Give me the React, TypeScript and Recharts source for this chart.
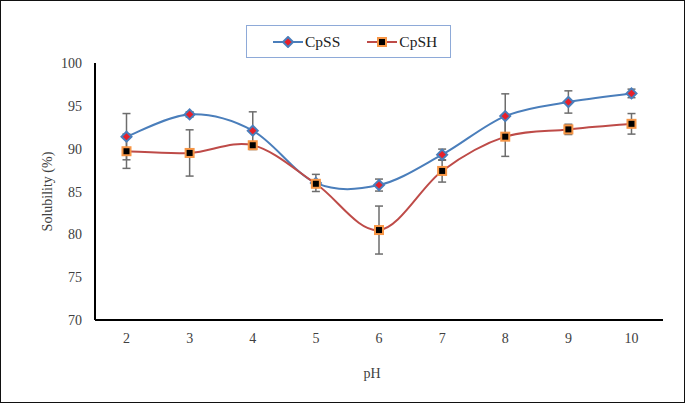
import React from "react";
import { ComposedChart, Line, XAxis, YAxis, ErrorBar, Legend, Label } from "recharts";

const phLabels = ["2", "3", "4", "5", "6", "7", "8", "9", "10"];
const cpssValues = [91.4, 94.0, 92.1, 86.0, 85.75, 89.3, 93.8, 95.45, 96.45];
const cpssErrors = [2.7, 0.3, 2.2, 1.0, 0.7, 0.65, 2.6, 1.3, 0.5];
const cpshValues = [89.7, 89.5, 90.4, 85.9, 80.5, 87.4, 91.4, 92.25, 92.9];
const cpshErrors = [2.0, 2.7, 0.3, 0.4, 2.8, 1.3, 2.3, 0.6, 1.2];
const yTicks = [70, 75, 80, 85, 90, 95, 100];

const data = phLabels.map((ph, i) => ({
  ph,
  cpss: cpssValues[i],
  cpssErr: cpssErrors[i],
  cpsh: cpshValues[i],
  cpshErr: cpshErrors[i],
}));

const BLUE = "#4a7ebb";
const RED = "#be4b48";
const FONT = "'Liberation Serif', 'Times New Roman', serif";
const TEXT = "#404040";

// Excel-like smoothed curve (Catmull-Rom style bezier)
function smoothCurve(context: any) {
  let pts: number[][] = [];
  return {
    areaStart() {},
    areaEnd() {},
    lineStart() {
      pts = [];
    },
    point(x: number, y: number) {
      pts.push([+x, +y]);
    },
    lineEnd() {
      if (!pts.length) return;
      context.moveTo(pts[0][0], pts[0][1]);
      for (let i = 0; i < pts.length - 1; i++) {
        const p0 = pts[i - 1] || pts[i];
        const p1 = pts[i];
        const p2 = pts[i + 1];
        const p3 = pts[i + 2] || pts[i + 1];
        const c1x = p1[0] + (p2[0] - p0[0]) / 6;
        const c1y = p1[1] + (p2[1] - p0[1]) / 6;
        const c2x = p2[0] - (p3[0] - p1[0]) / 6;
        const c2y = p2[1] - (p3[1] - p1[1]) / 6;
        context.bezierCurveTo(c1x, c1y, c2x, c2y, p2[0], p2[1]);
      }
    },
  };
}

const DiamondDot = (props: any) => {
  const { cx, cy } = props;
  if (cx == null || cy == null) return null;
  const r = 5;
  return (
    <polygon
      points={`${cx},${cy - r} ${cx + r},${cy} ${cx},${cy + r} ${cx - r},${cy}`}
      fill="#e8202a"
      stroke={BLUE}
      strokeWidth={2}
    />
  );
};

const SquareDot = (props: any) => {
  const { cx, cy } = props;
  if (cx == null || cy == null) return null;
  const s = 8;
  return (
    <rect x={cx - s / 2} y={cy - s / 2} width={s} height={s} fill="#000" stroke="#f79646" strokeWidth={2} />
  );
};

const XTick = (props: any) => {
  const { x, y, payload } = props;
  return (
    <text x={x} y={y} dy={10} textAnchor="middle" fill={TEXT} fontSize={14} fontFamily={FONT}>
      {payload.value}
    </text>
  );
};

const YTick = (props: any) => {
  const { x, y, payload } = props;
  return (
    <text x={x} y={y} dy={5} textAnchor="end" fill={TEXT} fontSize={14} fontFamily={FONT}>
      {payload.value}
    </text>
  );
};

const LegendBox = () => (
  <div
    style={{
      width: 205,
      height: 33,
      border: "1.5px solid #8eaad8",
      boxSizing: "border-box",
      display: "flex",
      alignItems: "center",
      fontFamily: FONT,
      fontSize: 15.5,
      color: "#222",
    }}
  >
    <svg width={30} height={12} style={{ marginLeft: 26 }}>
      <line x1={0} y1={6} x2={30} y2={6} stroke={BLUE} strokeWidth={2} />
      <DiamondDot cx={15} cy={6} />
    </svg>
    <span style={{ marginLeft: 2 }}>CpSS</span>
    <svg width={30} height={12} style={{ marginLeft: 27 }}>
      <line x1={0} y1={6} x2={30} y2={6} stroke={RED} strokeWidth={2} />
      <SquareDot cx={15} cy={6} />
    </svg>
    <span style={{ marginLeft: 2 }}>CpSH</span>
  </div>
);

export default function App() {
  return (
    <div
      style={{
        position: "absolute",
        left: 0,
        top: 0,
        width: 685,
        height: 403,
        background: "#fff",
        border: "1px solid #111",
        boxSizing: "border-box",
        overflow: "hidden",
      }}
    >
      <div style={{ position: "absolute", left: -1, top: -1 }}>
        <ComposedChart
          width={685}
          height={403}
          data={data}
          margin={{ top: 63, right: 22, bottom: 53, left: 0 }}
        >
          <XAxis
            dataKey="ph"
            height={30}
            padding={{ left: 31.5, right: 31.5 }}
            axisLine={{ stroke: "#000", strokeWidth: 2 }}
            tickLine={false}
            tickSize={6}
            tickMargin={7}
            tick={<XTick />}
          >
            <Label
              content={(p: any) => {
                const vb = p.viewBox;
                return (
                  <text
                    x={vb.x + vb.width / 2 - 7}
                    y={vb.y + 58}
                    textAnchor="middle"
                    fill={TEXT}
                    fontSize={14}
                    fontFamily={FONT}
                  >
                    pH
                  </text>
                );
              }}
            />
          </XAxis>
          <YAxis
            width={95}
            domain={[70, 100]}
            ticks={yTicks}
            interval={0}
            axisLine={{ stroke: "#000", strokeWidth: 2 }}
            tickLine={false}
            tickSize={6}
            tickMargin={7}
            tick={<YTick />}
          >
            <Label
              content={(p: any) => {
                const vb = p.viewBox;
                const cx = 47;
                const cy = vb.y + vb.height / 2;
                return (
                  <text
                    x={cx}
                    y={cy}
                    transform={`rotate(-90 ${cx} ${cy})`}
                    textAnchor="middle"
                    dominantBaseline="central"
                    fill={TEXT}
                    fontSize={14}
                    fontFamily={FONT}
                  >
                    Solubility (%)
                  </text>
                );
              }}
            />
          </YAxis>
          <Legend
            layout="horizontal"
            verticalAlign="middle"
            align="center"
            wrapperStyle={{ position: "absolute", left: 246, top: 25, width: 205, height: 33 }}
            content={() => <LegendBox />}
          />
          <Line
            dataKey="cpss"
            name="CpSS"
            type={smoothCurve as any}
            stroke={BLUE}
            strokeWidth={2}
            dot={<DiamondDot />}
            activeDot={false}
            isAnimationActive={false}
          >
            <ErrorBar dataKey="cpssErr" width={4} stroke="#6d6d6d" strokeWidth={1.5} direction="y" />
          </Line>
          <Line
            dataKey="cpsh"
            name="CpSH"
            type={smoothCurve as any}
            stroke={RED}
            strokeWidth={2}
            dot={<SquareDot />}
            activeDot={false}
            isAnimationActive={false}
          >
            <ErrorBar dataKey="cpshErr" width={4} stroke="#6d6d6d" strokeWidth={1.5} direction="y" />
          </Line>
        </ComposedChart>
      </div>
    </div>
  );
}
